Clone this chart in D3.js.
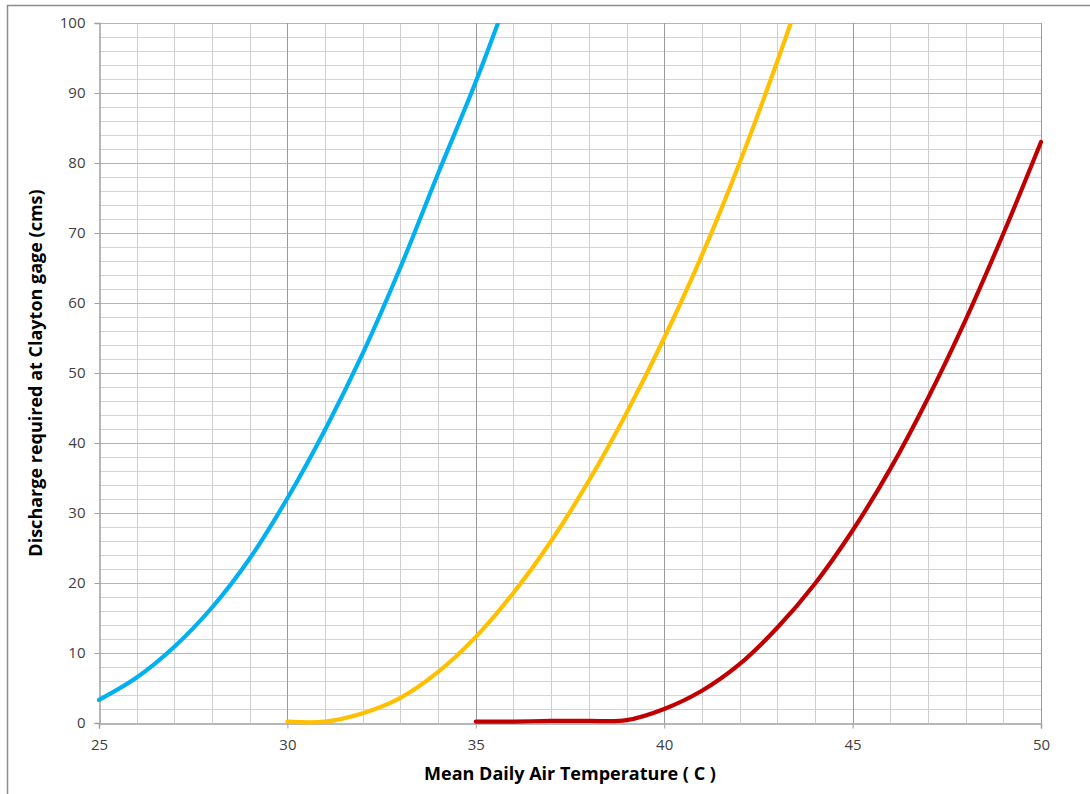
<!DOCTYPE html>
<html>
<head>
<meta charset="utf-8">
<script src="https://cdn.jsdelivr.net/npm/d3@7"></script>
<style>
body{margin:0;background:#fff;}
text{font-family:"Open Sans","Noto Sans",sans-serif;}
</style>
</head>
<body>
<svg id="chart" width="1090" height="794"></svg>
<script>
// series: [temperature, discharge]
var blueData = [[25,3.3],[26,6.5],[27,10.9],[28,16.5],[29,23.5],[30,32.1],[31,41.9],[32,52.8],[33,65.1],[34,78.5],[35,91.6],[36,106]];
var yellowData = [[30,0.2],[31,0.2],[32,1.4],[33,3.6],[34,7.3],[35,12.3],[36,18.6],[37,26.0],[38,34.6],[39,44.3],[40,55.0],[41,66.8],[42,80.0],[43,94.5],[44,110]];
var redData = [[35,0.2],[36,0.2],[37,0.3],[38,0.3],[39,0.4],[40,2.0],[41,4.6],[42,8.4],[43,13.6],[44,19.9],[45,27.5],[46,36.3],[47,46.4],[48,57.6],[49,69.9],[50,83.0]];
var seriesColors = ["#00B0F0","#FFC000","#C00000"];
var xTicks = [25,30,35,40,45,50];
var yTicks = [0,10,20,30,40,50,60,70,80,90,100];

var svg = d3.select("#chart");
var L = 99, R = 1041, T = 23, B = 723;

var x = d3.scaleLinear().domain([25,50]).range([L,R]);
var y = d3.scaleLinear().domain([0,100]).range([B,T]);

// outer frame
svg.append("rect").attr("x",7.5).attr("y",5.5).attr("width",1100).attr("height",800)
	.attr("fill","none").attr("stroke","#8c8c8c").attr("stroke-width",1.5);

var grid = svg.append("g");
// minor horizontal every 2
grid.selectAll("line.hm").data(d3.range(2,100,2).filter(d=>d%10!=0)).enter()
	.append("line").attr("class","hm")
	.attr("x1",L).attr("x2",R).attr("y1",d=>Math.round(y(d))+0.5).attr("y2",d=>Math.round(y(d))+0.5)
	.attr("stroke","#d4d4d4");
// minor vertical every 1
grid.selectAll("line.vm").data(d3.range(26,50).filter(d=>d%5!=0)).enter()
	.append("line").attr("class","vm")
	.attr("y1",T).attr("y2",B).attr("x1",d=>Math.round(x(d))+0.5).attr("x2",d=>Math.round(x(d))+0.5)
	.attr("stroke","#cfcfcf");
// major horizontal
grid.selectAll("line.hM").data(yTicks.slice(1)).enter()
	.append("line").attr("class","hM")
	.attr("x1",L).attr("x2",R).attr("y1",d=>Math.round(y(d))+0.5).attr("y2",d=>Math.round(y(d))+0.5)
	.attr("stroke","#b4b4b4");
// major vertical
grid.selectAll("line.vM").data(xTicks.slice(1)).enter()
	.append("line").attr("class","vM")
	.attr("y1",T).attr("y2",B).attr("x1",d=>Math.round(x(d))+0.5).attr("x2",d=>Math.round(x(d))+0.5)
	.attr("stroke","#9a9a9a");

// axes
var xAxis = svg.append("g").attr("transform","translate(0,"+(B+0.5)+")")
	.call(d3.axisBottom(x).tickValues(xTicks).tickSize(5).tickPadding(11));
var yAxis = svg.append("g").attr("transform","translate("+(L+0.5)+",0)")
	.call(d3.axisLeft(y).tickValues(yTicks).tickSize(5).tickPadding(9));
[xAxis,yAxis].forEach(function(a){
	a.select(".domain").attr("stroke","#a0a0a0").attr("stroke-width",1.5);
	a.selectAll(".tick line").attr("stroke","#a0a0a0");
	a.selectAll(".tick text").attr("font-size",15).attr("fill","#404040")
		.attr("font-family","'Open Sans','Noto Sans',sans-serif");
});

// lines
svg.append("clipPath").attr("id","clip").append("rect")
	.attr("x",L-5).attr("y",T).attr("width",R-L+10).attr("height",B-T+5);
var line = d3.line().x(d=>x(d[0])).y(d=>y(d[1])).curve(d3.curveCatmullRom.alpha(0.5));
svg.append("g").attr("clip-path","url(#clip)")
	.selectAll("path").data([blueData,yellowData,redData]).enter()
	.append("path").attr("d",d=>line(d))
	.attr("fill","none").attr("stroke",(d,i)=>seriesColors[i])
	.attr("stroke-width",4.2).attr("stroke-linecap","round");

// titles
svg.append("text").attr("x",(L+R)/2).attr("y",780).attr("text-anchor","middle")
	.attr("font-size",18).attr("font-weight","bold").attr("fill","#000")
	.text("Mean Daily Air Temperature ( C )");
svg.append("text").attr("transform","translate(42,"+((T+B)/2)+") rotate(-90)")
	.attr("text-anchor","middle")
	.attr("font-size",18).attr("font-weight","bold").attr("fill","#000")
	.text("Discharge required at Clayton gage (cms)");
</script>
</body>
</html>
